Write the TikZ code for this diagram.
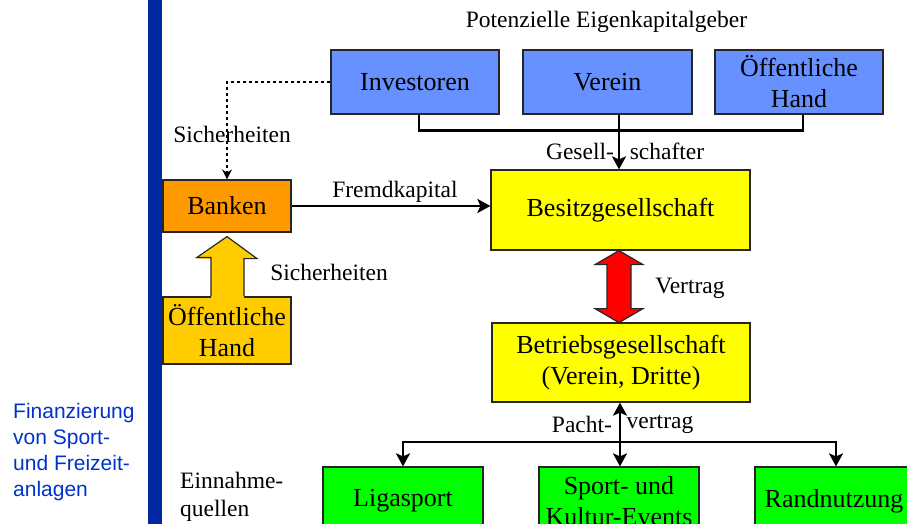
\documentclass[tikz,border=0pt]{standalone}
\usepackage{fontspec}
\setmainfont{Liberation Serif}
\newfontfamily\sidefont{Liberation Sans}
\usetikzlibrary{arrows.meta,positioning,calc}

\definecolor{barblue}{RGB}{0,40,160}
\definecolor{sideblue}{RGB}{0,51,204}
\definecolor{kapblue}{RGB}{102,145,255}
\definecolor{besitzyellow}{RGB}{255,255,0}
\definecolor{bankorange}{RGB}{255,153,0}
\definecolor{handgold}{RGB}{255,204,0}
\definecolor{vertragred}{RGB}{255,0,0}
\definecolor{quellgreen}{RGB}{0,255,0}

\begin{document}
\begin{tikzpicture}[
  x=1pt, y=-1pt,
  box/.style={draw=black!85, line width=1.2pt, inner sep=0pt, align=center,
    font=\fontsize{26}{31}\selectfont},
  lbl/.style={inner sep=0pt, align=center, font=\fontsize{23.5}{28}\selectfont},
  link/.style={line width=2.6pt, -{Stealth[length=13pt,width=14pt,inset=3pt]}},
  bracket/.style={line width=2.6pt},
  dotlink/.style={line width=2.6pt, dash pattern=on 3pt off 3pt, -{Stealth[length=10pt,width=10pt]}},
  blockarrow/.style={draw=black!85, line width=1.2pt, line join=miter}
]
  \useasboundingbox (0,0) rectangle (907,524);
  \clip (0,0) rectangle (907,524);

  % side bar and topic
  \fill[barblue] (148,0) rectangle (162,524);
  \node[anchor=west, align=left, inner sep=0pt, text=sideblue,
    font=\sidefont\fontsize{21}{26}\selectfont] (thema) at (13,452)
    {Finanzierung\\von Sport-\\und Freizeit-\\anlagen};

  % potential equity providers
  \node[lbl] (eigen) at (606.5,22) {Potenzielle Eigenkapitalgeber};
  \node[box, fill=kapblue, minimum width=168, minimum height=64] (investoren) at (415,82) {Investoren};
  \node[box, fill=kapblue, minimum width=169, minimum height=64] (verein) at (607.5,82) {Verein};
  \node[box, fill=kapblue, minimum width=168, minimum height=64] (oehand) at (799,82) {Öffentliche\\Hand};

  % companies
  \node[box, fill=besitzyellow, minimum width=259, minimum height=80] (besitz) at (620.5,210) {Besitzgesellschaft};
  \node[box, fill=besitzyellow, minimum width=258, minimum height=79] (betrieb) at (621,362.5) {Betriebsgesellschaft\\(Verein, Dritte)};

  % banks and public guarantor
  \node[box, fill=bankorange, minimum width=128, minimum height=52] (banken) at (227,206) {Banken};
  \node[box, fill=handgold, minimum width=128, minimum height=67] (hand) at (227,330.5) {Öffentliche\\Hand};

  % revenue sources
  \node[lbl, anchor=west, align=left, font=\fontsize{23.5}{28}\selectfont] (quellen) at (180,497) {Einnahme-\\quellen};
  \node[box, fill=quellgreen, minimum width=160, minimum height=68] (liga) at (403,501) {Ligasport};
  \node[box, fill=quellgreen, minimum width=160, minimum height=68] (events) at (619,501) {Sport- und\\Kultur-Events};
  \node[box, fill=quellgreen, minimum width=158, minimum height=68] (rand) at (834,501) {Randnutzung};

  % shareholders
  \draw[bracket] ([xshift=4pt]investoren.south) |- ([xshift=4pt,yshift=-16pt]oehand.south) -- ([xshift=4pt]oehand.south);
  \draw[link] ([xshift=11.5pt]verein.south) -- ([xshift=11.5pt]verein.south |- besitz.north);
  \node[lbl] (gesell) at (580,151) {Gesell-};
  \node[lbl] (schafter) at (667,151) {schafter};

  % securities and loans
  \draw[dotlink] (investoren.west) -| (banken.north);
  \node[lbl] (sicher1) at (232,134) {Sicherheiten};
  \draw[link] (banken.east) -- (banken.east -| besitz.west);
  \node[lbl] (fremd) at (395,192) {Fremdkapital};

  \fill[handgold] ([yshift=-4pt]banken.south) -- ++(30,22) -- ++(-13,0) -- ++(0,40.5)
    -- ++(-33,0) -- ++(0,-40.5) -- ++(-14,0) -- cycle;
  \draw[blockarrow] ([xshift=-16pt]hand.north) -- ++(0,-39) -- ++(-14,0) -- ([yshift=-4pt]banken.south)
    -- ++(30,22) -- ++(-13,0) -- ([xshift=17pt]hand.north);
  \node[lbl] (sicher2) at (329,272) {Sicherheiten};

  % contract
  \draw[blockarrow, fill=vertragred] ([xshift=-1.5pt]besitz.south) -- ++(24,14) -- ++(-12,0) -- ++(0,44)
    -- ++(12,0) -- ++(-24,14) -- ++(-24,-14) -- ++(12,0) -- ++(0,-44) -- ++(-12,0) -- cycle;
  \node[lbl] (vertrag) at (690,288) {Vertrag};

  % lease
  \coordinate (pacht) at (620,442);
  \draw[link] (pacht) -- (pacht |- betrieb.south);
  \draw[link] (pacht) -- (pacht |- events.north);
  \draw[link] (pacht) -| (liga.north);
  \draw[link] (pacht) -| ([xshift=2pt]rand.north);
  \node[lbl] (pacht1) at (582,424) {Pacht-};
  \node[lbl] (pacht2) at (660,424) {vertrag};
\end{tikzpicture}
\end{document}
